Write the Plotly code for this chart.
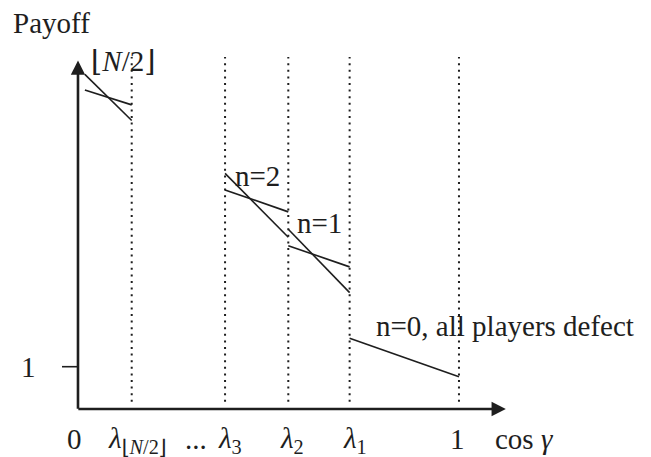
import plotly.graph_objects as go

# ---- data (schematic units: x = cos(gamma), y = payoff) ----
lambda_labels = ["<i>λ</i><sub>⌊<i>N</i>/2⌋</sub>", "<i>λ</i><sub>3</sub>", "<i>λ</i><sub>2</sub>", "<i>λ</i><sub>1</sub>", "1"]
lambda_x = [0.141, 0.386, 0.552, 0.713, 1.0]

# payoff segments in each interval: (steep, shallow) pairs
top_steep_x = [0.018, 0.141]
top_steep_y = [7.91, 6.82]
top_shallow_x = [0.018, 0.141]
top_shallow_y = [7.54, 7.19]

n2_steep_x = [0.386, 0.552]
n2_steep_y = [5.57, 4.06]
n2_shallow_x = [0.386, 0.552]
n2_shallow_y = [5.18, 4.66]

n1_steep_x = [0.552, 0.713]
n1_steep_y = [4.25, 2.75]
n1_shallow_x = [0.552, 0.713]
n1_shallow_y = [3.86, 3.36]

n0_x = [0.713, 1.0]
n0_y = [1.67, 0.76]

y_tick_value = 1
x_axis_end = 1.123
y_axis_end = 8.24
dotted_top = 8.32
dotted_bottom = 0.17

FONT = "Liberation Serif, DejaVu Serif, serif"
INK = "#1e1e1e"
FSIZE = 29

fig = go.Figure()

# dotted vertical guides
for lx in lambda_x:
    fig.add_trace(go.Scatter(x=[lx, lx], y=[dotted_bottom, dotted_top], mode="lines",
                             line=dict(color=INK, width=2, dash="2px,4.6px"),
                             hoverinfo="skip", showlegend=False))

segments = [
    (top_steep_x, top_steep_y), (top_shallow_x, top_shallow_y),
    (n2_steep_x, n2_steep_y), (n2_shallow_x, n2_shallow_y),
    (n1_steep_x, n1_steep_y), (n1_shallow_x, n1_shallow_y),
    (n0_x, n0_y),
]
for sx, sy in segments:
    fig.add_trace(go.Scatter(x=sx, y=sy, mode="lines",
                             line=dict(color=INK, width=1.6),
                             hoverinfo="skip", showlegend=False))

# y tick mark at 1
fig.add_trace(go.Scatter(x=[-0.042, 0], y=[y_tick_value, y_tick_value], mode="lines",
                         line=dict(color=INK, width=1.6), hoverinfo="skip", showlegend=False))

annotations = []
# axes with arrow heads
annotations.append(dict(x=x_axis_end, y=0, ax=-0.003, ay=0, xref="x", yref="y",
                        axref="x", ayref="y", text="", showarrow=True,
                        arrowhead=2, arrowsize=1.1, arrowwidth=2.6, arrowcolor=INK))
annotations.append(dict(x=0, y=y_axis_end, ax=0, ay=-0.03, xref="x", yref="y",
                        axref="x", ayref="y", text="", showarrow=True,
                        arrowhead=2, arrowsize=1.1, arrowwidth=2.6, arrowcolor=INK))

def label(x, y, text, xanchor="center", yanchor="middle"):
    annotations.append(dict(x=x, y=y, xref="x", yref="y", text=text, showarrow=False,
                            xanchor=xanchor, yanchor=yanchor,
                            font=dict(family=FONT, size=FSIZE, color=INK)))

label(-0.0696, 9.12, "Payoff")
label(0.1194, 8.23, "⌊<i>N</i>/2⌋")
label(0.471, 5.51, "n=2")
label(0.634, 4.40, "n=1")
label(1.122, 1.96, "n=0, all players defect")
label(-0.131, y_tick_value, "1")

xlab_y = -0.70
label(-0.008, xlab_y, "0")
label(0.155, xlab_y - 0.03, lambda_labels[0])
label(0.31, xlab_y, "...")
label(0.400, xlab_y - 0.03, lambda_labels[1])
label(0.563, xlab_y - 0.03, lambda_labels[2])
label(0.727, xlab_y - 0.03, lambda_labels[3])
label(0.995, xlab_y, lambda_labels[4])
label(1.173, xlab_y, "cos <i>γ</i>")

# the page adds an 8px body margin, so the ranges are shifted to compensate
fig.update_layout(
    width=651, height=457,
    margin=dict(l=0, r=0, t=0, b=0),
    paper_bgcolor="white", plot_bgcolor="white",
    xaxis=dict(range=[-0.1837, 1.525], visible=False, fixedrange=True),
    yaxis=dict(range=[-1.324, 9.480], visible=False, fixedrange=True),
    annotations=annotations,
    showlegend=False,
)

fig.write_html("out.html")
